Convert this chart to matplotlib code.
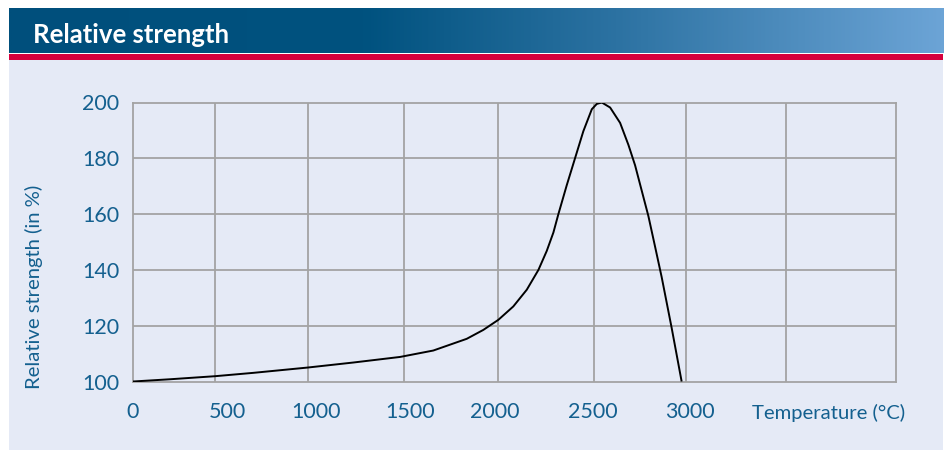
import numpy as np
import matplotlib
matplotlib.use("Agg")
import matplotlib.pyplot as plt
from matplotlib.colors import LinearSegmentedColormap

# ---- data ----
temp = [0, 200, 444, 651, 945, 1192, 1445, 1625, 1806, 1896, 1977, 2058, 2131,
        2194, 2239, 2275, 2302, 2347, 2392, 2437, 2483, 2510, 2537, 2582, 2636,
        2681, 2717, 2753, 2789, 2825, 2861, 2915, 2969]
strength = [100.0, 100.8, 101.9, 103.1, 105.0, 106.8, 108.8, 111.1, 115.3, 118.5,
            122.1, 126.9, 132.9, 140.0, 146.8, 153.4, 160.0, 170.3, 180.0, 189.7,
            197.6, 199.5, 200.0, 198.2, 192.7, 184.8, 177.5, 168.4, 159.3, 148.4,
            137.4, 119.2, 100.0]
xtick_labels = ["0", "500", "1000", "1500", "2000", "2500", "3000"]
xtick_pos = [0, 509, 990, 1499, 1960, 2490, 3015]
xgrid = [444, 945, 1465, 1977, 2495, 2995, 3534]
yticks = [100, 120, 140, 160, 180, 200]

W, H = 946, 450
fig = plt.figure(figsize=(W / 100, H / 100), dpi=100)
fig.patch.set_facecolor("white")

def px_axes(x0, y0, x1, y1, **kw):
    # pixel box (top-left origin) -> figure axes
    return fig.add_axes([x0 / W, 1 - y1 / H, (x1 - x0) / W, (y1 - y0) / H], **kw)

txt = "#14608f"
panel = "#e5eaf6"

# panel
bg = px_axes(9, 59.5, 943, 450)
bg.set_facecolor(panel)
bg.set_xticks([]); bg.set_yticks([])
for s in bg.spines.values():
    s.set_visible(False)

# header gradient
hdr = px_axes(9, 8, 943, 53.5)
cmap = LinearSegmentedColormap.from_list(
    "hdr", [(0, "#004f7c"), (0.38, "#00527f"), (0.65, "#2c72a2"), (1, "#6ca4d6")])
hdr.imshow(np.linspace(0, 1, 512)[None, :], aspect="auto", cmap=cmap, extent=[0, 1, 0, 1])
hdr.set_xlim(0, 1); hdr.set_ylim(0, 1)
hdr.axis("off")
hdr.text(24 / 934, 0.40, "Relative strength", color="white", fontsize=18.5,
         fontweight="bold", family="Lato", va="center", ha="left")

# red rule
red = px_axes(9, 53.5, 943, 59.5)
red.set_facecolor("#d6003c")
red.set_xticks([]); red.set_yticks([])
for s in red.spines.values():
    s.set_visible(False)

# main plot
ax = px_axes(133, 102.5, 896, 381.5)
ax.set_facecolor(panel)
ax.set_xlim(0, 4129)
ax.set_ylim(100, 200)
grid_c = "#a3a3a3"
for gx in xgrid:
    ax.axvline(gx, color=grid_c, lw=1.3, zorder=1)
for gy in yticks[1:-1]:
    ax.axhline(gy, color=grid_c, lw=1.3, zorder=1)
for s in ax.spines.values():
    s.set_color(grid_c)
    s.set_linewidth(1.3)
ax.plot(temp, strength, color="black", lw=1.4, zorder=3,
        solid_capstyle="butt", solid_joinstyle="round")

ax.set_xticks(xtick_pos)
ax.set_xticklabels(xtick_labels)
ax.set_yticks(yticks)
ax.tick_params(length=0, colors=txt, labelsize=15.5)
ax.tick_params(axis="x", pad=15)
ax.tick_params(axis="y", pad=10)
for lab in ax.get_xticklabels() + ax.get_yticklabels():
    lab.set_family("Lato")
    lab.set_color(txt)

fig.text(752 / W, 1 - 413 / H, "Temperature (°C)", color=txt, fontsize=14.6,
         family="Lato", ha="left", va="center")
fig.text(34 / W, 1 - 287 / H, "Relative strength (in %)", color=txt, fontsize=14.6,
         family="Lato", ha="center", va="center", rotation=90)

fig.savefig("out.png", dpi=100)
